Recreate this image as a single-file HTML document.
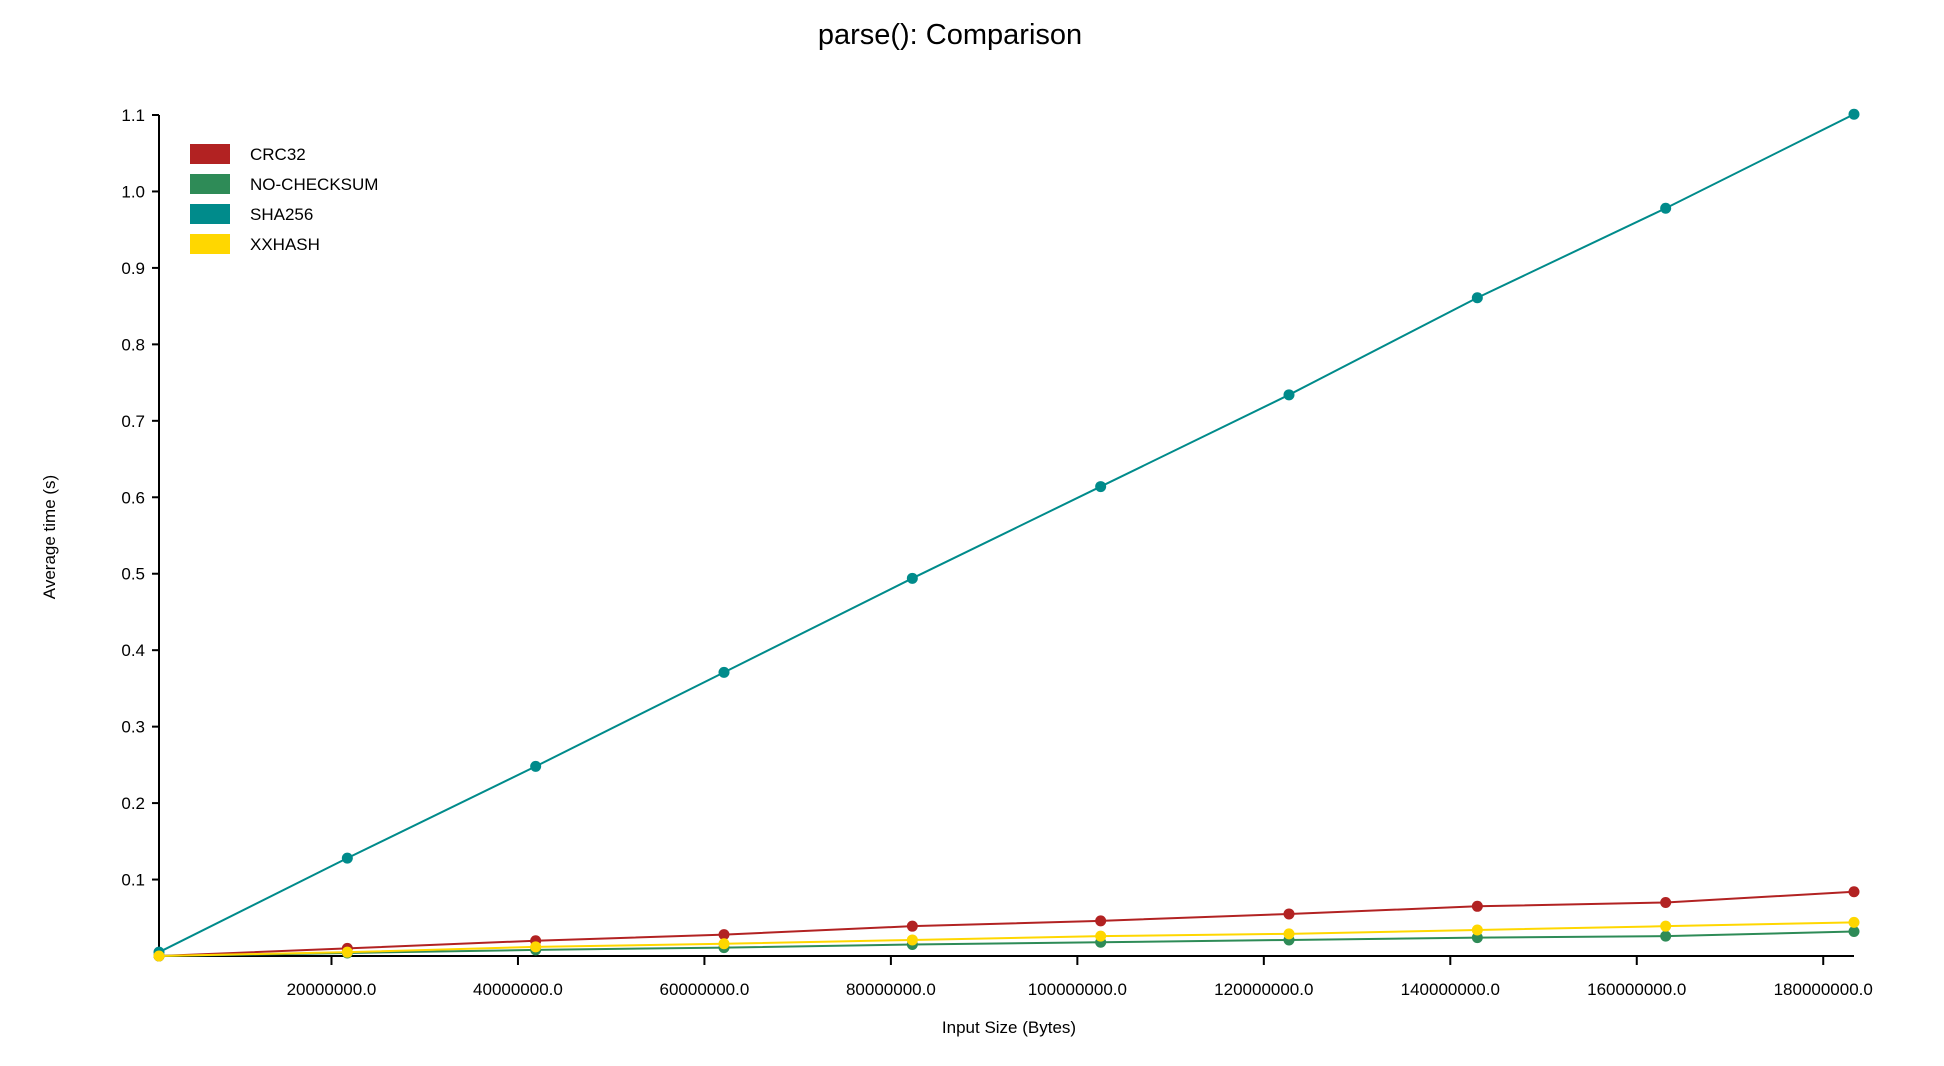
<!DOCTYPE html>
<html><head><meta charset="utf-8"><style>
body{margin:0;background:#fff;}
svg{display:block;font-family:"Liberation Sans",Arial,sans-serif;}
</style></head><body>
<svg id="chart" width="1944" height="1066">
<text x="950" y="44" text-anchor="middle" font-size="29">parse(): Comparison</text>
<text transform="translate(55,537) rotate(-90)" text-anchor="middle" font-size="17">Average time (s)</text>
<text x="1009" y="1033" text-anchor="middle" font-size="17">Input Size (Bytes)</text>
<g id="axes"></g>
<g id="series"></g>
<g id="legend"></g>
</svg>
<script>
const xValues=[1.5,21.7,41.9,62.1,82.3,102.5,122.7,142.9,163.1,183.3];
const seriesNames=["CRC32","NO-CHECKSUM","SHA256","XXHASH"];
const crc32=[0,0.010,0.020,0.028,0.039,0.046,0.055,0.065,0.070,0.084];
const noChecksum=[0,0.004,0.008,0.011,0.015,0.018,0.021,0.024,0.026,0.032];
const sha256=[0.005,0.128,0.248,0.371,0.494,0.614,0.734,0.861,0.978,1.101];
const xxhash=[0,0.005,0.012,0.016,0.021,0.026,0.029,0.034,0.039,0.044];
const yTicks=[0.1,0.2,0.3,0.4,0.5,0.6,0.7,0.8,0.9,1.0,1.1];
const xTicks=[20,40,60,80,100,120,140,160,180];
const xTickLabels=["20000000.0","40000000.0","60000000.0","80000000.0","100000000.0","120000000.0","140000000.0","160000000.0","180000000.0"];
const colors=["#b22222","#2e8b57","#008b8b","#ffd700"];
const NS="http://www.w3.org/2000/svg";
const X0=159,X1=1854,Y0=956,Y1=115;
const xMin=Math.min(...xValues),xMax=Math.max(...xValues);
const xs=v=>X0+(v-xMin)/(xMax-xMin)*(X1-X0);
const ys=v=>Y0-v/1.1*(Y0-Y1);
function mk(t,a,p){const e=document.createElementNS(NS,t);for(const k in a)e.setAttribute(k,a[k]);p.appendChild(e);return e;}
const axes=document.getElementById('axes');
let l=mk('line',{x1:X0,x2:X0,y1:Y1,y2:Y0,stroke:'#000','stroke-width':2},axes);


l=mk('line',{x1:X0,x2:X1,y1:Y0,y2:Y0,stroke:'#000','stroke-width':2},axes);


yTicks.forEach(v=>{const y=ys(v);
 const t=mk('line',{x1:X0-7,x2:X0,y1:y,y2:y,stroke:'#000','stroke-width':2},axes);
 
 
 const tx=mk('text',{x:X0-14,y:y+6,'text-anchor':'end','font-size':17},axes);
 
 
 tx.textContent=v.toFixed(1);});
xTicks.forEach((v,i)=>{const x=xs(v);
 const t=mk('line',{x1:x,x2:x,y1:Y0,y2:Y0+9,stroke:'#000','stroke-width':2},axes);
 
 
 const tx=mk('text',{x:x,y:Y0+39,'text-anchor':'middle','font-size':17},axes);
 
 
 tx.textContent=xTickLabels[i];});
const data=[crc32,noChecksum,sha256,xxhash];
const sg=document.getElementById('series');
data.forEach((arr,si)=>{
 const g=mk('g',{},sg);
 
 
 const p=mk('polyline',{points:arr.map((v,i)=>xs(xValues[i])+','+ys(v)).join(' '),fill:'none',stroke:colors[si],'stroke-width':2},g);
 
 
 arr.forEach((v,i)=>{const c=mk('circle',{cx:xs(xValues[i]),cy:ys(v),r:5.5,fill:colors[si]},g);
  
  });
});
const lg=document.getElementById('legend');
seriesNames.forEach((n,i)=>{
 const g=mk('g',{},lg);
 
 
 mk('rect',{x:190,y:144+i*30,width:40,height:20,fill:colors[i]},g);
 const t=mk('text',{x:250,y:160+i*30,'font-size':17},g);
 t.textContent=n;});
</script>
</body></html>
